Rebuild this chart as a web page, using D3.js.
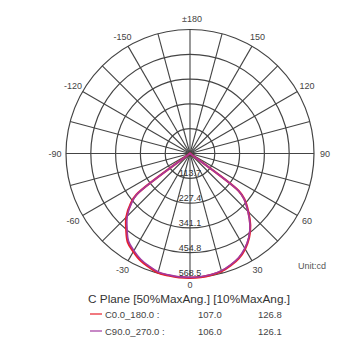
<!DOCTYPE html>
<html><head><meta charset="utf-8">
<script src="https://cdn.jsdelivr.net/npm/d3@7"></script>
<style>html,body{margin:0;padding:0;background:#fff;}svg{display:block;font-family:"Liberation Sans",Arial,sans-serif;}</style>
</head><body>
<svg id="chart" width="340" height="342"></svg>
<script>
// gamma angles (deg) measured from nadir
const gammaAngles = [0,5,10,15,20,25,30,35,40,45,50,52.5,55,60,70,80,90,120,150,180];
// C0 (right half) and C180 (left half), cd
const c0Values   = [570,569,565,559,546,530,505,472,430,378,325,282,6,3,2,2,2,1,1,1];
const c180Values = [570,570,568,566,553,540,519,497,455,413,353,310,6,3,2,2,2,1,1,1];
// C90 (right half) and C270 (left half), cd
const c90Values  = [568,567,563,556,543,527,502,470,428,376,323,280,6,3,2,2,2,1,1,1];
const c270Values = [568,568,565,562,549,535,514,491,449,407,348,305,6,3,2,2,2,1,1,1];

const ringValues = [113.7, 227.4, 341.1, 454.8, 568.5];
const ringLabels = ["113.7", "227.4", "341.1", "454.8", "568.5"];
const angleTicks = [0,30,60,90,120,150,180,-150,-120,-90,-60,-30];
const angleLabels = ["0","30","60","90","120","150","±180","-150","-120","-90","-60","-30"];
const spokeAngles = d3.range(0, 360, 15);

const legendNames = ["C0.0_180.0 :", "C90.0_270.0 :"];
const legendHalf = ["107.0", "106.0"];
const legendTenth = ["126.8", "126.1"];
const legendHeader = "C Plane [50%MaxAng.] [10%MaxAng.]";
const unitText = "Unit:cd";

const colors = ["#e8202a", "#a23aa0"];

const svg = d3.select("#chart");
const cx = 190, cy = 153.5, R = 124;
const r = d3.scaleLinear().domain([0, 568.5]).range([0, R]);
const toRad = d => d * Math.PI / 180;
// screen angle for lineRadial: 0 at top clockwise; gamma 0 at bottom
const ang = g => toRad(180 - g);

const g = svg.append("g").attr("transform", `translate(${cx},${cy})`);

// rings
g.selectAll("circle.ring").data(ringValues).join("circle")
  .attr("class","ring").attr("r", d => r(d))
  .attr("fill","none").attr("stroke","#444").attr("stroke-width",1.2);

// spokes
g.selectAll("line.spoke").data(spokeAngles).join("line")
  .attr("x1",0).attr("y1",0)
  .attr("x2", d => R*Math.sin(ang(d))).attr("y2", d => -R*Math.cos(ang(d)))
  .attr("stroke","#444").attr("stroke-width",1.1);

// ring labels
g.selectAll("text.rl").data(ringValues).join("text")
  .attr("x",0).attr("y", d => r(d) - 5)
  .attr("text-anchor","middle").attr("dominant-baseline","central")
  .attr("font-size",9).attr("fill","#333")
  .text((d,i) => ringLabels[i]);

// angle labels
g.selectAll("text.al").data(angleTicks).join("text")
  .attr("x", d => 135*Math.sin(ang(d)) + (d===180?2:0))
  .attr("y", d => -(d===0?131:135)*Math.cos(ang(d)))
  .attr("text-anchor","middle").attr("dominant-baseline","central")
  .attr("font-size",9).attr("fill","#444")
  .text((d,i) => angleLabels[i]);

function fullCurve(rightVals, leftVals){
  const pts = [];
  for (let i = gammaAngles.length-1; i > 0; i--) pts.push([-gammaAngles[i], leftVals[i]]);
  for (let i = 0; i < gammaAngles.length; i++) pts.push([gammaAngles[i], i===0 ? (rightVals[0]+leftVals[0])/2 : rightVals[i]]);
  return pts;
}
const line = d3.lineRadial().angle(d => ang(d[0])).radius(d => r(d[1]))
  .curve(d3.curveCatmullRom.alpha(0.5));

const curves = [fullCurve(c0Values, c180Values), fullCurve(c90Values, c270Values)];
g.selectAll("path.curve").data(curves).join("path")
  .attr("d", line).attr("fill","none")
  .attr("stroke",(d,i)=>colors[i]).attr("stroke-width",(d,i)=>i===0?2.2:1.6);

// unit
svg.append("text").attr("x",298).attr("y",266).attr("dominant-baseline","central")
  .attr("font-size",9).attr("fill","#555").text(unitText);

// legend
svg.append("text").attr("x",88).attr("y",299).attr("dominant-baseline","central")
  .attr("font-size",10).attr("fill","#333")
  .attr("textLength",202).attr("lengthAdjust","spacingAndGlyphs").text(legendHeader);
const rows = [0,1];
const rowY = [314, 331];
rows.forEach(i => {
  svg.append("line").attr("x1",90).attr("x2",102).attr("y1",rowY[i]).attr("y2",rowY[i])
    .attr("stroke",colors[i]).attr("stroke-width",1.2);
  svg.append("text").attr("x",105).attr("y",rowY[i]).attr("dominant-baseline","central")
    .attr("font-size",9.5).attr("fill","#444").text(legendNames[i]);
  svg.append("text").attr("x",198).attr("y",rowY[i]).attr("dominant-baseline","central")
    .attr("font-size",9.5).attr("fill","#444").text(legendHalf[i]);
  svg.append("text").attr("x",258).attr("y",rowY[i]).attr("dominant-baseline","central")
    .attr("font-size",9.5).attr("fill","#444").text(legendTenth[i]);
});
</script>
</body></html>
